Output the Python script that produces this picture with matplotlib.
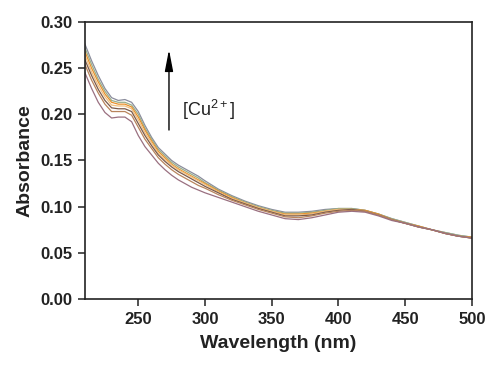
import matplotlib
matplotlib.use("Agg")
import matplotlib.pyplot as plt

plt.rcParams['font.family'] = ['Liberation Sans', 'DejaVu Sans']
plt.rcParams['mathtext.fontset'] = 'custom'
plt.rcParams['mathtext.rm'] = 'Liberation Sans'

wavelength = [210, 215, 220, 225, 230, 235, 240, 245, 250, 255, 260, 265, 270, 275,
              280, 285, 290, 295, 300, 310, 320, 330, 340, 350, 360, 370, 380, 390,
              400, 410, 420, 430, 440, 450, 460, 470, 480, 490, 500]

abs_1 = [0.276, 0.258, 0.242, 0.228, 0.218, 0.215, 0.216, 0.213, 0.203, 0.188, 0.175, 0.164, 0.157, 0.150,
         0.145, 0.141, 0.137, 0.133, 0.128, 0.119, 0.112, 0.106, 0.101, 0.097, 0.094, 0.094, 0.095, 0.097,
         0.098, 0.098, 0.096, 0.092, 0.087, 0.083, 0.079, 0.075, 0.072, 0.069, 0.067]
abs_2 = [0.272, 0.254, 0.238, 0.225, 0.215, 0.213, 0.213, 0.210, 0.200, 0.185, 0.173, 0.162, 0.155, 0.148,
         0.143, 0.139, 0.135, 0.131, 0.126, 0.118, 0.111, 0.105, 0.100, 0.096, 0.093, 0.093, 0.094, 0.096,
         0.098, 0.098, 0.096, 0.092, 0.087, 0.083, 0.079, 0.075, 0.072, 0.069, 0.067]
abs_3 = [0.268, 0.250, 0.235, 0.222, 0.213, 0.211, 0.211, 0.208, 0.197, 0.183, 0.171, 0.160, 0.153, 0.146,
         0.141, 0.137, 0.133, 0.129, 0.125, 0.117, 0.110, 0.104, 0.099, 0.095, 0.092, 0.092, 0.093, 0.095,
         0.097, 0.097, 0.096, 0.092, 0.086, 0.082, 0.079, 0.075, 0.071, 0.068, 0.067]
abs_4 = [0.264, 0.246, 0.231, 0.219, 0.210, 0.209, 0.209, 0.206, 0.194, 0.180, 0.169, 0.158, 0.151, 0.145,
         0.140, 0.136, 0.132, 0.128, 0.124, 0.116, 0.109, 0.104, 0.099, 0.095, 0.091, 0.091, 0.092, 0.095,
         0.097, 0.097, 0.095, 0.091, 0.086, 0.082, 0.078, 0.075, 0.071, 0.068, 0.066]
abs_5 = [0.259, 0.242, 0.227, 0.215, 0.207, 0.206, 0.206, 0.203, 0.190, 0.177, 0.166, 0.156, 0.149, 0.143,
         0.138, 0.134, 0.130, 0.126, 0.122, 0.115, 0.108, 0.103, 0.098, 0.094, 0.090, 0.090, 0.091, 0.094,
         0.096, 0.097, 0.095, 0.091, 0.086, 0.082, 0.078, 0.075, 0.071, 0.068, 0.066]
abs_6 = [0.254, 0.237, 0.223, 0.211, 0.203, 0.203, 0.203, 0.199, 0.186, 0.173, 0.163, 0.153, 0.146, 0.140,
         0.135, 0.131, 0.127, 0.123, 0.120, 0.113, 0.107, 0.102, 0.097, 0.093, 0.089, 0.088, 0.090, 0.093,
         0.095, 0.096, 0.095, 0.091, 0.086, 0.082, 0.078, 0.075, 0.071, 0.068, 0.066]
abs_7 = [0.245, 0.228, 0.213, 0.202, 0.196, 0.197, 0.197, 0.192, 0.177, 0.165, 0.156, 0.147, 0.140, 0.134,
         0.129, 0.125, 0.121, 0.118, 0.115, 0.110, 0.105, 0.100, 0.095, 0.091, 0.087, 0.086, 0.088, 0.091,
         0.094, 0.095, 0.094, 0.090, 0.085, 0.082, 0.078, 0.075, 0.071, 0.068, 0.066]

series = [abs_1, abs_2, abs_3, abs_4, abs_5, abs_6, abs_7]
colors = ['#8a8c9c', '#98ae8c', '#e8902a', '#f0c080', '#7a5a4a', '#b8845c', '#9a7080']

x_ticks = [250, 300, 350, 400, 450, 500]
y_ticks = [0.00, 0.05, 0.10, 0.15, 0.20, 0.25, 0.30]

fig = plt.figure(figsize=(4.88, 3.66), dpi=100)
ax = fig.add_axes([0.174, 0.183, 0.793, 0.757])

for ys, c in zip(series, colors):
    ax.plot(wavelength, ys, color=c, lw=0.9)

ax.set_xlim(210, 500)
ax.set_ylim(0, 0.30)
ax.set_xticks(x_ticks)
ax.set_yticks(y_ticks)
ax.set_yticklabels([f"{v:.2f}" for v in y_ticks])
ax.tick_params(direction='out', length=5, width=1.1, labelsize=12, pad=4, colors='#222222')
for lab in ax.get_xticklabels() + ax.get_yticklabels():
    lab.set_fontweight('bold')
for s in ax.spines.values():
    s.set_linewidth(1.2)
    s.set_color('#222222')

ax.set_xlabel('Wavelength (nm)', fontsize=14, fontweight='bold', labelpad=6, color='#222222')
ax.set_ylabel('Absorbance', fontsize=14, fontweight='bold', labelpad=5, color='#222222')

ax.annotate('', xy=(273, 0.270), xytext=(273, 0.183),
            arrowprops=dict(arrowstyle='-|>,head_length=1.3,head_width=0.25', color='black', lw=1.0,
                            mutation_scale=10, shrinkA=0, shrinkB=0))
ax.text(283, 0.205, r'[Cu$^{2+}$]', fontsize=13, va='center', ha='left', color='#222222')

fig.savefig('out.png', dpi=100, facecolor='white')
